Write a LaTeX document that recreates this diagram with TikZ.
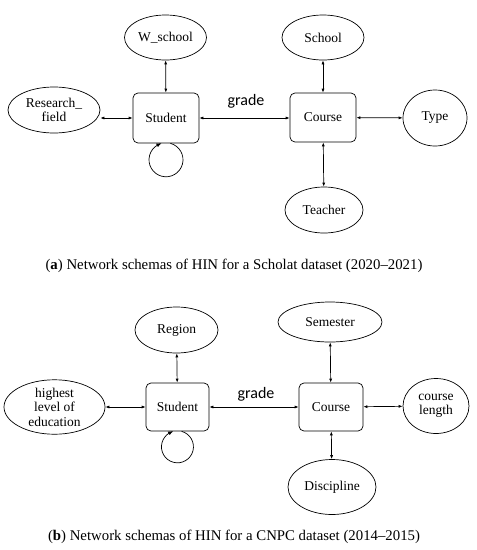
\documentclass[tikz,border=0pt]{standalone}
\usepackage{fontspec}
\setmainfont{Liberation Serif}
\newfontfamily\gradefont{Carlito}
\usetikzlibrary{shapes.geometric,arrows.meta,bending}
\begin{document}
\begin{tikzpicture}[x=1pt,y=-1pt,
  ent/.style={ellipse,draw=black,line width=0.7pt,inner sep=0pt,font=\fontsize{13.5}{14.5}\selectfont,align=center},
  obj/.style={rectangle,rounded corners=5pt,draw=black,line width=0.7pt,inner sep=0pt,font=\fontsize{13.5}{14.5}\selectfont},
  link/.style={line width=0.7pt,{Latex[length=4pt,width=3pt]}-{Latex[length=4pt,width=3pt]}},
  selfl/.style={line width=0.7pt,-{Latex[length=5pt,width=4pt,bend]}},
  lbl/.style={font=\gradefont\fontsize{16}{18}\selectfont},
  captext/.style={font=\fontsize{14.8}{16}\selectfont}]
\useasboundingbox (0,0) rectangle (477,550);
% ---- panel (a)
\node[obj,minimum width=66pt,minimum height=50pt] (stuA) at (166,118) {Student};
\node[obj,minimum width=66pt,minimum height=49pt] (couA) at (323,117.5) {Course};
\node[ent,minimum width=82pt,minimum height=45pt] (wsch) at (165.5,37.5) {W\_school};
\node[ent,minimum width=92pt,minimum height=46pt] (resf) at (54,110) {Research\_\\field};
\node[ent,minimum width=82pt,minimum height=45pt] (schA) at (323,37.5) {School};
\node[ent,minimum width=64pt,minimum height=56pt] (typA) at (435,118) {Type};
\node[ent,minimum width=78pt,minimum height=46pt] (teaA) at (324,210) {Teacher};
\draw[link] (wsch) -- (stuA);
\draw[link] (resf.east |- stuA) -- (stuA.west);
\draw[link] (stuA) -- (couA.west |- stuA);
\draw[link] (schA) -- (couA);
\draw[link] (couA) -- (typA);
\draw[link] (couA) -- (teaA);
\draw[selfl] ([xshift=4.4pt]stuA.south) arc[start angle=75,end angle=-255,radius=17pt];
\node[lbl] (grA) at (246,101) {grade};
\node[captext] (capA) at (234,266) {(\textbf{a}) Network schemas of HIN for a Scholat dataset (2020–2021)};
% ---- panel (b)
\node[obj,minimum width=63pt,minimum height=48pt] (stuB) at (177.5,407) {Student};
\node[obj,minimum width=64pt,minimum height=48pt] (couB) at (331,407) {Course};
\node[ent,minimum width=83pt,minimum height=46pt] (regB) at (176.5,330) {Region};
\node[ent,minimum width=101pt,minimum height=54pt] (hle) at (54.5,407) {highest\\level of\\education};
\node[ent,minimum width=104pt,minimum height=40pt] (semB) at (330,322) {Semester};
\node[ent,minimum width=66pt,minimum height=55pt] (clen) at (436,406) {course\\length};
\node[ent,minimum width=88pt,minimum height=55pt] (disB) at (332,487) {Discipline};
\draw[link] (regB) -- (stuB);
\draw[link] (hle) -- (stuB);
\draw[link] (stuB) -- (couB);
\draw[link] (semB) -- (couB);
\draw[link] (couB) -- (clen);
\draw[link] (couB) -- (disB);
\draw[selfl] ([xshift=4.1pt]stuB.south) arc[start angle=75,end angle=-255,radius=16pt];
\node[lbl] (grB) at (256,394) {grade};
\node[captext] (capB) at (234,537) {(\textbf{b}) Network schemas of HIN for a CNPC dataset (2014–2015)};
\end{tikzpicture}
\end{document}
